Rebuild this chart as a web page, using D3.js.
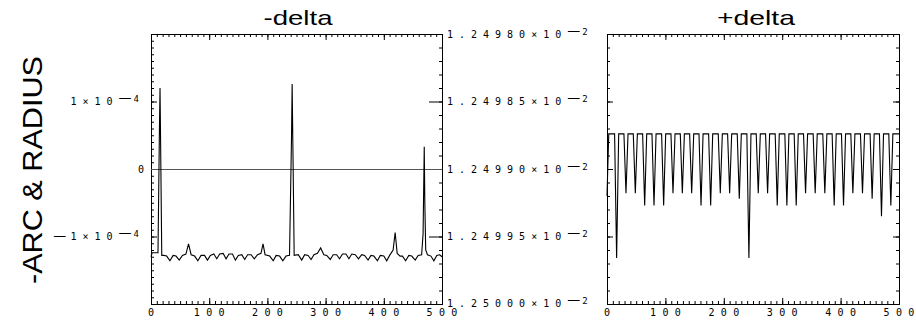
<!DOCTYPE html>
<html>
<head>
<meta charset="utf-8">
<script src="https://cdn.jsdelivr.net/npm/d3@7"></script>
<style>
  body { margin: 0; background: #fff; }
  .tick line { stroke: #000; }
  .lbl { font-family: "DejaVu Sans Mono", monospace; font-size: 10px; fill: #000; letter-spacing: 6px; }
  .xlbl { font-family: "DejaVu Sans Mono", monospace; font-size: 10px; fill: #000; }
  .exp { font-family: "DejaVu Sans Mono", monospace; font-size: 9px; fill: #000; }
  .dash { font-family: "DejaVu Sans", sans-serif; font-size: 13px; fill: #000; }
</style>
</head>
<body>
<script>
// Define SVG area dimensions
var svgWidth = 916;
var svgHeight = 320;

// x ticks shared by both panels
var xTicks = [0, 100, 200, 300, 400, 500];

// left axis of -delta panel (units of 1e-4)
var arcTicks = [-1, 0, 1];
var arcTickText = ["1×10", "0", "1×10"];
var arcTickSign = [true, false, false];
var arcTickExp = ["4", "", "4"];

// right axis of -delta panel, also used by +delta (units of 1e-2)
var radiusTicks = [1.24980, 1.24985, 1.24990, 1.24995, 1.25000];
var radiusTickText = ["1.24980×10", "1.24985×10", "1.24990×10", "1.24995×10", "1.25000×10"];
var radiusTickExp = "2";

// -delta series (x, value in 1e-4)
var arcX = [0, 2, 12, 14.5, 15.5, 16.5, 18.5, 22, 27, 32.5, 38, 43, 48.5, 54, 60, 64.5, 69, 75, 80.5, 86, 92, 97,
  102, 108, 113, 118, 124, 129, 134, 140, 145, 150, 156, 161, 166, 172, 177.5, 183, 189, 192.5, 196, 204, 210,
  215, 221, 226.5, 232, 238, 241.5, 242.5, 244, 246, 253, 259, 264, 270, 275, 280, 286, 291.5, 297, 302, 308,
  313, 319, 324, 329, 335, 340, 345, 351, 356.5, 362, 367, 373, 378, 383, 389, 394, 400, 405, 410, 416, 419.5,
  423, 428, 432, 437.5, 443, 448, 454, 459, 465, 467.5, 469.5, 470.5, 472, 475, 481, 486, 491, 496, 500];
var arcY = [-1.30, -1.24, -1.24, 0.6, 1.20, 0.4, -1.28, -1.28, -1.29, -1.36, -1.28, -1.29, -1.35, -1.28, -1.26, -1.11, -1.27, -1.29, -1.36, -1.28, -1.28, -1.35,
  -1.28, -1.26, -1.33, -1.26, -1.25, -1.33, -1.26, -1.26, -1.35, -1.28, -1.27, -1.34, -1.27, -1.27, -1.33, -1.27, -1.25, -1.11, -1.27, -1.29, -1.36,
  -1.28, -1.29, -1.36, -1.29, -1.28, 0.5, 1.26, 0.2, -1.28, -1.27, -1.35, -1.27, -1.28, -1.34, -1.27, -1.25, -1.17, -1.27, -1.28, -1.34,
  -1.27, -1.27, -1.33, -1.26, -1.26, -1.33, -1.26, -1.27, -1.33, -1.27, -1.28, -1.35, -1.28, -1.29, -1.36, -1.28, -1.29, -1.36, -1.28, -1.2, -0.94,
  -1.25, -1.29, -1.29, -1.36, -1.28, -1.29, -1.35, -1.28, -1.27, -0.96, 0.33, -0.5, -1.2, -1.27, -1.29, -1.36, -1.28, -1.27, -1.30];

// +delta series: flat top level with narrow dips (value in 1e-2)
var radiusStart = 1.249920;
var radiusTop = 1.249874;
var dipX = [16.5, 32.5, 48.5, 64.5, 80.5, 97, 113, 129, 145, 161, 177.5, 194, 210, 226.5, 243,
  259, 275, 291.5, 308, 324, 340, 356.5, 373, 389, 405, 421, 437.5, 454, 470, 486];
var dipY = [1.249966, 1.249918, 1.249918, 1.249927, 1.249927, 1.249927, 1.249918, 1.249918, 1.249918, 1.249927, 1.249927, 1.249918, 1.249918, 1.249922, 1.249966,
  1.249918, 1.249918, 1.249927, 1.249927, 1.249927, 1.249918, 1.249918, 1.249918, 1.249927, 1.249927, 1.249918, 1.249918, 1.249922, 1.249935, 1.249927];
var dipHalf = 3.5;

var svg = d3.select("body")
  .append("svg")
  .attr("width", svgWidth)
  .attr("height", svgHeight);

var top0 = 34, bottom0 = 304;
var xL = d3.scaleLinear().domain([0, 500]).range([151, 442]);
var xR = d3.scaleLinear().domain([0, 500]).range([607, 899]);
var yArc = d3.scaleLinear().domain([-2, 2]).range([bottom0, top0]);
var yRad = d3.scaleLinear().domain([1.24980, 1.25000]).range([top0, bottom0]);

function ticks(axis, scale, values, size, tx, ty) {
  svg.append("g")
    .attr("transform", `translate(${tx}, ${ty})`)
    .call(axis(scale).tickValues(values).tickSize(size).tickFormat(""))
    .call(g => g.select(".domain").remove());
}

var minorX = d3.range(0, 501, 10);
var minorArc = d3.range(-20, 21).map(d => d / 10);
var minorRad = d3.range(0, 21).map(d => 1.24980 + d * 0.00001);

[xL, xR].forEach(function(x) {
  ticks(d3.axisBottom, x, minorX, -3, 0, bottom0);
  ticks(d3.axisBottom, x, xTicks, -6, 0, bottom0);
  ticks(d3.axisTop, x, minorX, -3, 0, top0);
  ticks(d3.axisTop, x, xTicks, -6, 0, top0);

  svg.selectAll(null)
    .data(xTicks)
    .enter()
    .append("text")
    .attr("class", "xlbl")
    .attr("x", d => x(d))
    .attr("y", 316)
    .attr("text-anchor", "middle")
    .attr("textLength", d => String(d).length > 1 ? (String(d).length - 1) * 12.4 + 6 : null)
    .attr("lengthAdjust", "spacing")
    .text(d => d);
});

// -delta panel axes
ticks(d3.axisLeft, yArc, minorArc, -3, 151, 0);
ticks(d3.axisLeft, yArc, [-2, -1, 0, 1, 2], -6, 151, 0);
ticks(d3.axisRight, yRad, minorRad, -3, 442, 0);
ticks(d3.axisRight, yRad, radiusTicks, -13, 442, 0);

// +delta panel axes
ticks(d3.axisLeft, yRad, minorRad, -3, 607, 0);
ticks(d3.axisLeft, yRad, radiusTicks, -6, 607, 0);
ticks(d3.axisRight, yRad, minorRad, -3, 899, 0);
ticks(d3.axisRight, yRad, radiusTicks, -6, 899, 0);

// frames
[[151, 442], [607, 899]].forEach(function(r) {
  svg.append("rect")
    .attr("x", r[0] + 0.5).attr("y", top0 + 0.5)
    .attr("width", r[1] - r[0]).attr("height", bottom0 - top0)
    .attr("fill", "none").attr("stroke", "#000");
});

// left tick labels
arcTicks.forEach(function(v, i) {
  var t = svg.append("text")
    .attr("y", yArc(v) + 3.5)
    .attr("text-anchor", "end");
  if (arcTickExp[i] === "") {
    t.attr("x", 144).attr("class", "xlbl").text(arcTickText[i]);
    return;
  }
  t.attr("x", 139);
  if (arcTickSign[i]) t.append("tspan").attr("class", "dash").text("— ");
  t.append("tspan").attr("class", "lbl").text(arcTickText[i]);
  t.append("tspan").attr("class", "dash").attr("dy", -3).text("—");
  t.append("tspan").attr("class", "exp").attr("dx", 2).text(arcTickExp[i]);
});

// right tick labels of -delta panel
radiusTicks.forEach(function(v, i) {
  var t = svg.append("text")
    .attr("x", 447)
    .attr("y", yRad(v) + (i === radiusTicks.length - 1 ? 2.5 : 3.5));
  t.append("tspan").attr("class", "lbl").text(radiusTickText[i]);
  t.append("tspan").attr("class", "dash").attr("dy", -3).text("—");
  t.append("tspan").attr("class", "exp").attr("dx", 2).text(radiusTickExp);
});

// zero line
svg.append("line")
  .attr("x1", xL(0)).attr("x2", xL(500))
  .attr("y1", yArc(0) + 0.5).attr("y2", yArc(0) + 0.5)
  .attr("stroke", "#555").attr("stroke-width", 1);

// -delta curve
var arcData = arcX.map((x, i) => [x, arcY[i]]);
svg.append("path")
  .datum(arcData)
  .attr("fill", "none")
  .attr("stroke", "#000")
  .attr("stroke-width", 1.1)
  .attr("d", d3.line().x(d => xL(d[0])).y(d => yArc(d[1])));

// +delta curve
var radData = [[0, radiusStart], [3, radiusTop]];
dipX.forEach(function(x, i) {
  radData.push([x - dipHalf, radiusTop], [x, dipY[i]], [x + dipHalf, radiusTop]);
});
radData.push([500, radiusTop]);
svg.append("path")
  .datum(radData)
  .attr("fill", "none")
  .attr("stroke", "#000")
  .attr("stroke-width", 1.1)
  .attr("d", d3.line().x(d => xR(d[0])).y(d => yRad(d[1])));

// titles
svg.append("text")
  .attr("x", 298).attr("y", 25)
  .attr("text-anchor", "middle")
  .attr("font-family", "Liberation Sans, Arial, sans-serif")
  .attr("font-size", 21)
  .attr("textLength", 69)
  .attr("lengthAdjust", "spacingAndGlyphs")
  .text("-delta");

svg.append("text")
  .attr("x", 756).attr("y", 25)
  .attr("text-anchor", "middle")
  .attr("font-family", "Liberation Sans, Arial, sans-serif")
  .attr("font-size", 21)
  .attr("textLength", 78)
  .attr("lengthAdjust", "spacingAndGlyphs")
  .text("+delta");

svg.append("text")
  .attr("transform", "translate(42, 170) rotate(-90)")
  .attr("text-anchor", "middle")
  .attr("font-family", "Liberation Sans, Arial, sans-serif")
  .attr("font-size", 28)
  .attr("textLength", 228)
  .attr("lengthAdjust", "spacingAndGlyphs")
  .text("-ARC & RADIUS");
</script>
</body>
</html>
